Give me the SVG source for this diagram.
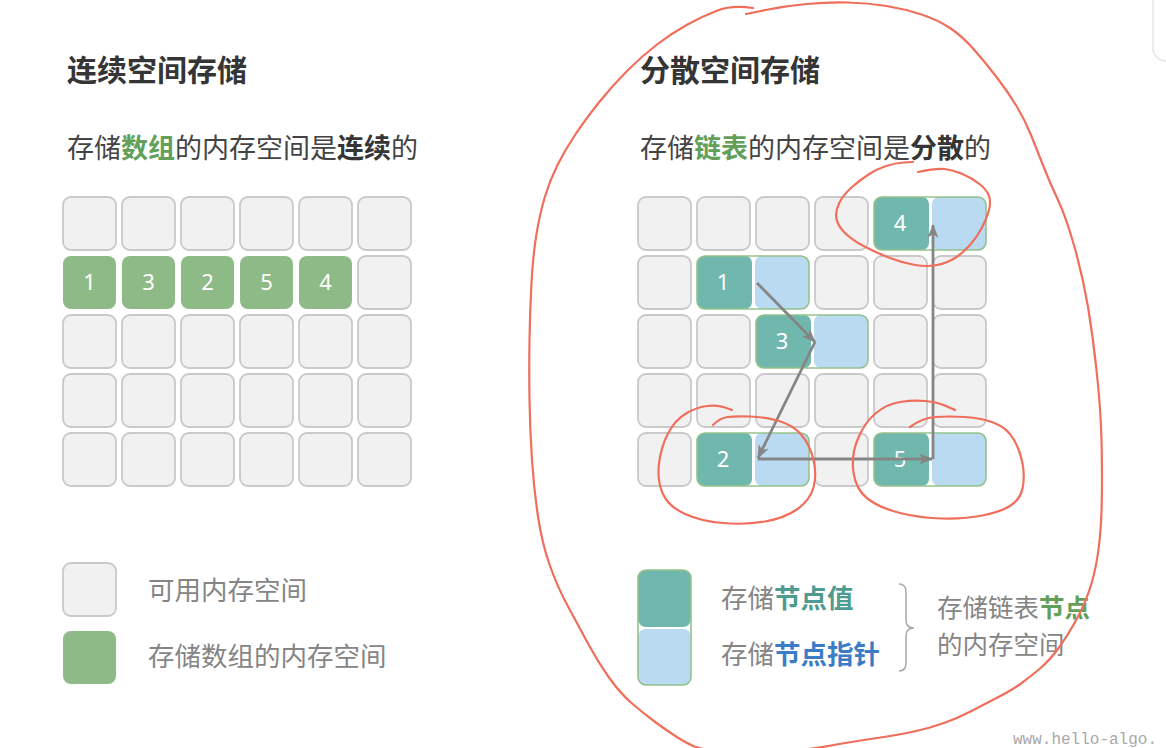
<svg xmlns="http://www.w3.org/2000/svg" width="1166" height="748" viewBox="0 0 1166 748">
<defs>
<style>
.t{font-family:"Noto Sans CJK SC","Noto Sans",sans-serif;}
.title{font-size:30px;font-weight:700;fill:#353535;}
.sub{font-size:27px;fill:#444;}
.b{font-weight:700;}
.leg{font-size:26.5px;fill:#858585;}
.leg2{font-size:25.5px;fill:#858585;}
.num{font-family:"Noto Sans","DejaVu Sans",sans-serif;font-size:22px;fill:#fff;text-anchor:middle;}
.cell{fill:#f1f1f1;stroke:#c9c9c9;stroke-width:1.8;}
.arr{fill:#8dba86;}
.teal{fill:#70b8ad;}
.blue{fill:#badaf2;}
.nbg{fill:#fff;}
.nout{fill:none;stroke:#95c28c;stroke-width:1.6;}
.link{fill:none;stroke:#858585;stroke-width:2.8;marker-end:url(#ah);}
.red{fill:none;stroke:#ef6f5c;stroke-width:2.2;stroke-linecap:round;stroke-linejoin:round;}
</style>
<marker id="ah" viewBox="0 0 14 12" refX="13" refY="6" markerWidth="14" markerHeight="12" markerUnits="userSpaceOnUse" orient="auto">
<path d="M0,0.5 L14,6 L0,11.5 L4,6 z" fill="#858585"/>
</marker>
</defs>
<rect width="1166" height="748" fill="#fff"/>
<rect x="1153" y="-20" width="40" height="81" rx="13" fill="#fff" stroke="#e6e6e6" stroke-width="1.5"/>

<!-- Left side -->
<text class="t title" x="67" y="81">连续空间存储</text>
<text class="t sub" x="67" y="158">存储<tspan class="b" fill="#62a05a">数组</tspan>的内存空间是<tspan class="b" fill="#353535">连续</tspan>的</text>

<g id="array-grid">
<rect class="cell" x="63" y="197" width="53" height="53" rx="8"/>
<rect class="cell" x="122" y="197" width="53" height="53" rx="8"/>
<rect class="cell" x="181" y="197" width="53" height="53" rx="8"/>
<rect class="cell" x="240" y="197" width="53" height="53" rx="8"/>
<rect class="cell" x="299" y="197" width="53" height="53" rx="8"/>
<rect class="cell" x="358" y="197" width="53" height="53" rx="8"/>
<rect class="cell" x="358" y="256" width="53" height="53" rx="8"/>
<rect class="cell" x="63" y="315" width="53" height="53" rx="8"/>
<rect class="cell" x="122" y="315" width="53" height="53" rx="8"/>
<rect class="cell" x="181" y="315" width="53" height="53" rx="8"/>
<rect class="cell" x="240" y="315" width="53" height="53" rx="8"/>
<rect class="cell" x="299" y="315" width="53" height="53" rx="8"/>
<rect class="cell" x="358" y="315" width="53" height="53" rx="8"/>
<rect class="cell" x="63" y="374" width="53" height="53" rx="8"/>
<rect class="cell" x="122" y="374" width="53" height="53" rx="8"/>
<rect class="cell" x="181" y="374" width="53" height="53" rx="8"/>
<rect class="cell" x="240" y="374" width="53" height="53" rx="8"/>
<rect class="cell" x="299" y="374" width="53" height="53" rx="8"/>
<rect class="cell" x="358" y="374" width="53" height="53" rx="8"/>
<rect class="cell" x="63" y="433" width="53" height="53" rx="8"/>
<rect class="cell" x="122" y="433" width="53" height="53" rx="8"/>
<rect class="cell" x="181" y="433" width="53" height="53" rx="8"/>
<rect class="cell" x="240" y="433" width="53" height="53" rx="8"/>
<rect class="cell" x="299" y="433" width="53" height="53" rx="8"/>
<rect class="cell" x="358" y="433" width="53" height="53" rx="8"/>
</g>
<g id="arr-1"><rect class="arr" x="63" y="256" width="53" height="53" rx="8"/><text class="num" x="89.5" y="290">1</text></g>
<g id="arr-3"><rect class="arr" x="122" y="256" width="53" height="53" rx="8"/><text class="num" x="148.5" y="290">3</text></g>
<g id="arr-2"><rect class="arr" x="181" y="256" width="53" height="53" rx="8"/><text class="num" x="207.5" y="290">2</text></g>
<g id="arr-5"><rect class="arr" x="240" y="256" width="53" height="53" rx="8"/><text class="num" x="266.5" y="290">5</text></g>
<g id="arr-4"><rect class="arr" x="299" y="256" width="53" height="53" rx="8"/><text class="num" x="325.5" y="290">4</text></g>

<g id="legend-left">
<rect class="cell" x="63" y="563" width="53" height="53" rx="8"/>
<text class="t leg" x="148" y="600">可用内存空间</text>
<rect class="arr" x="63" y="631" width="53" height="53" rx="8"/>
<text class="t leg" x="148" y="666">存储数组的内存空间</text>
</g>

<!-- Right side -->
<text class="t title" x="640" y="81">分散空间存储</text>
<text class="t sub" x="640" y="158">存储<tspan class="b" fill="#62a05a">链表</tspan>的内存空间是<tspan class="b" fill="#353535">分散</tspan>的</text>

<g id="free-grid">
<rect class="cell" x="638" y="197" width="53" height="53" rx="8"/>
<rect class="cell" x="697" y="197" width="53" height="53" rx="8"/>
<rect class="cell" x="756" y="197" width="53" height="53" rx="8"/>
<rect class="cell" x="815" y="197" width="53" height="53" rx="8"/>
<rect class="cell" x="638" y="256" width="53" height="53" rx="8"/>
<rect class="cell" x="815" y="256" width="53" height="53" rx="8"/>
<rect class="cell" x="874" y="256" width="53" height="53" rx="8"/>
<rect class="cell" x="933" y="256" width="53" height="53" rx="8"/>
<rect class="cell" x="638" y="315" width="53" height="53" rx="8"/>
<rect class="cell" x="697" y="315" width="53" height="53" rx="8"/>
<rect class="cell" x="874" y="315" width="53" height="53" rx="8"/>
<rect class="cell" x="933" y="315" width="53" height="53" rx="8"/>
<rect class="cell" x="638" y="374" width="53" height="53" rx="8"/>
<rect class="cell" x="697" y="374" width="53" height="53" rx="8"/>
<rect class="cell" x="756" y="374" width="53" height="53" rx="8"/>
<rect class="cell" x="815" y="374" width="53" height="53" rx="8"/>
<rect class="cell" x="874" y="374" width="53" height="53" rx="8"/>
<rect class="cell" x="933" y="374" width="53" height="53" rx="8"/>
<rect class="cell" x="638" y="433" width="53" height="53" rx="8"/>
<rect class="cell" x="815" y="433" width="53" height="53" rx="8"/>
</g>

<g id="node-4">
<rect class="nbg" x="874" y="197" width="112" height="53" rx="8"/>
<rect class="teal" x="874" y="197" width="55" height="53" rx="7"/>
<rect class="blue" x="932" y="197" width="54" height="53" rx="7"/>
<rect class="nout" x="874" y="197" width="112" height="53" rx="8"/>
<text class="num" x="900" y="231">4</text>
</g>
<g id="node-1">
<rect class="nbg" x="697" y="256" width="112" height="53" rx="8"/>
<rect class="teal" x="697" y="256" width="55" height="53" rx="7"/>
<rect class="blue" x="755" y="256" width="54" height="53" rx="7"/>
<rect class="nout" x="697" y="256" width="112" height="53" rx="8"/>
<text class="num" x="723" y="290">1</text>
</g>
<g id="node-3">
<rect class="nbg" x="756" y="315" width="112" height="53" rx="8"/>
<rect class="teal" x="756" y="315" width="55" height="53" rx="7"/>
<rect class="blue" x="814" y="315" width="54" height="53" rx="7"/>
<rect class="nout" x="756" y="315" width="112" height="53" rx="8"/>
<text class="num" x="782" y="349">3</text>
</g>
<g id="node-2">
<rect class="nbg" x="697" y="433" width="112" height="53" rx="8"/>
<rect class="teal" x="697" y="433" width="55" height="53" rx="7"/>
<rect class="blue" x="755" y="433" width="54" height="53" rx="7"/>
<rect class="nout" x="697" y="433" width="112" height="53" rx="8"/>
<text class="num" x="723" y="467">2</text>
</g>
<g id="node-5">
<rect class="nbg" x="874" y="433" width="112" height="53" rx="8"/>
<rect class="teal" x="874" y="433" width="55" height="53" rx="7"/>
<rect class="blue" x="932" y="433" width="54" height="53" rx="7"/>
<rect class="nout" x="874" y="433" width="112" height="53" rx="8"/>
<text class="num" x="900" y="467">5</text>
</g>

<g id="connectors">
<path class="link" d="M757,283 L815,342"/>
<path class="link" d="M815,342 L758,458"/>
<path class="link" d="M758,459 L932,459"/>
<path class="link" d="M933,459 L933,225"/>
</g>

<g id="legend-right">
<rect class="nbg" x="638" y="570" width="53" height="115" rx="8"/>
<rect class="teal" x="638" y="570" width="53" height="57" rx="8"/>
<rect class="blue" x="638" y="629" width="53" height="56" rx="8"/>
<rect class="nout" x="638" y="570" width="53" height="115" rx="8"/>
<text class="t leg" x="721" y="608">存储<tspan class="b" fill="#4f9b8f">节点值</tspan></text>
<text class="t leg" x="721" y="664">存储<tspan class="b" fill="#3b7dc4">节点指针</tspan></text>
<path d="M899,584 Q906,584 906,592 L906,620 Q906,628 914,628 Q906,628 906,636 L906,663 Q906,671 899,671" fill="none" stroke="#a8a8a8" stroke-width="1.5"/>
<text class="t leg2" x="937" y="617">存储链表<tspan class="b" fill="#62a05a">节点</tspan></text>
<text class="t leg2" x="937" y="654">的内存空间</text>
</g>

<g id="annotations">
<path class="red" d="M746,14 L765.5,10 Q785,6 806.5,4 Q828,2 848,2.5 Q868,3 886.5,6 Q905,9 921.5,14.5 Q938,20 950,28 Q962,36 973.5,49 Q985,62 996.5,77 Q1008,92 1016.5,106 Q1025,120 1031,135 Q1037,150 1043.5,166.5 Q1050,183 1058,200 Q1066,217 1074.5,247 Q1083,277 1088,307 Q1093,337 1096.5,370 Q1100,403 1101,426.5 Q1102,450 1102,483.5 Q1102,517 1099.5,541 Q1097,565 1091.5,583.5 Q1086,602 1077,618.5 Q1068,635 1059,647.5 Q1050,660 1040,668.5 Q1030,677 1021,683.5 Q1012,690 997.5,697.5 Q983,705 970.5,711.5 Q958,718 944,723 Q930,728 914,731.5 Q898,735 874,738.5 Q850,742 831,745.5 Q812,749 785,752 Q758,755 730.5,752.5 Q703,750 694.5,746.5 Q686,743 676,736.5 Q666,730 654.5,721.5 Q643,713 631.5,703 Q620,693 609,677.5 Q598,662 588,643.5 Q578,625 567.5,605.5 Q557,586 549.5,564.5 Q542,543 538,516.5 Q534,490 532,460 Q530,430 529.5,400 Q529,370 529.5,340 Q530,310 531.5,282.5 Q533,255 536.5,234 Q540,213 545,196.5 Q550,180 557.5,165 Q565,150 575,135 Q585,120 598.5,103 Q612,86 627,71 Q642,56 657,44.5 Q672,33 687.5,24.5 Q703,16 717.5,10.5 Q732,5 753,8"/>
<path class="red" d="M913,162 L904,162.5 Q895,163 886,166 Q877,169 868.5,174.5 Q860,180 851.5,187.5 Q843,195 839,203.5 Q835,212 836.5,219 Q838,226 845,233 Q852,240 864.5,246.5 Q877,253 890,258 Q903,263 915,265 Q927,267 937,265 Q947,263 955,258 Q963,253 970,245 Q977,237 982,227.5 Q987,218 989,210 Q991,202 989,196 Q987,190 979.5,184 Q972,178 962.5,174 Q953,170 944.5,169 Q936,168 918,172"/>
<path class="red" d="M732,410 L725,407.5 Q718,405 707.5,406 Q697,407 686,413.5 Q675,420 668,433.5 Q661,447 659,463.5 Q657,480 662.5,493 Q668,506 684,513.5 Q700,521 722.5,523 Q745,525 765,521.5 Q785,518 797.5,509 Q810,500 813.5,487.5 Q817,475 813.5,460 Q810,445 801.5,435 Q793,425 779,421 Q765,417 750,416.5 Q735,416 727.5,417 Q720,418 713,425"/>
<path class="red" d="M955,410 L946,406 Q937,402 925,401 Q913,400 900,402 Q887,404 876,413 Q865,422 858,438.5 Q851,455 853.5,472.5 Q856,490 868,499 Q880,508 900,513 Q920,518 942.5,518.5 Q965,519 982.5,515.5 Q1000,512 1010,506 Q1020,500 1022.5,488.5 Q1025,477 1022.5,463.5 Q1020,450 1013.5,439 Q1007,428 994.5,423 Q982,418 965,417 Q948,416 935,417 Q922,418 910,427"/>
</g>

<text x="1013" y="744" font-family="Liberation Mono, monospace" font-size="16" fill="#a8a8a8">www.hello-algo.</text>
</svg>
